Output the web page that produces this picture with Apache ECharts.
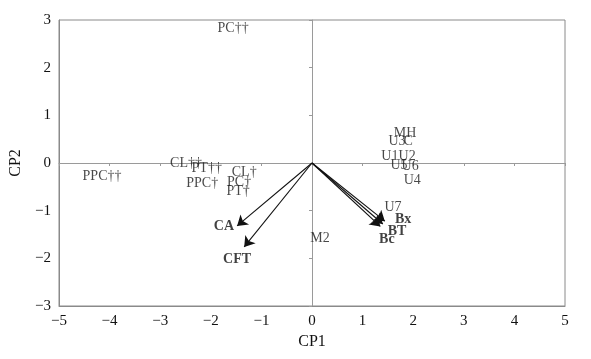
<!DOCTYPE html>
<html>
<head>
<meta charset="utf-8">
<script src="https://cdn.jsdelivr.net/npm/echarts@6/dist/echarts.min.js"></script>
<style>html,body{margin:0;padding:0;background:#fff}#c{width:591px;height:359px}</style>
</head>
<body>
<div id="c"></div>
<script>
// Point labels (regular font)
const labelNames = ['PC††','PPC††','CL††','PT††','PPC†','CL†','PC†','PT†','MH','U3','C','U1','U2','U5','U6','U4','U7','M2'];
const labelX =     [-1.56, -4.15, -2.49, -2.08, -2.17, -1.34, -1.44, -1.46, 1.84, 1.68, 1.90, 1.54, 1.88, 1.72, 1.94, 1.98, 1.60, 0.16];
const labelY =     [ 2.83, -0.27,  0.00, -0.12, -0.42, -0.19, -0.40, -0.59, 0.62, 0.46, 0.46, 0.13, 0.13, -0.04, -0.06, -0.36, -0.94, -1.57];
// Variable labels (bold)
const varNames = ['CA','CFT','Bx','BT','Bc'];
const varX =     [-1.74, -1.48, 1.80, 1.68, 1.48];
const varY =     [-1.34, -2.03, -1.19, -1.43, -1.61];
// Loading arrows (tips)
const arrowX = [-1.48, -1.34, 1.44, 1.40, 1.35];
const arrowY = [-1.32, -1.76, -1.22, -1.28, -1.33];
// Ticks
const xTicks = [-5,-4,-3,-2,-1,0,1,2,3,4,5];
const yTicks = [-3,-2,-1,0,1,2,3];

const FONT = 'Liberation Serif';
const fmt = v => v < 0 ? '\u2212' + Math.abs(v) : String(v);

const chart = echarts.init(document.getElementById('c'));
chart.setOption({
  animation: false,
  grid: {left: 59, right: 26, top: 20, bottom: 53, show: true, borderColor: '#8a8a8a', borderWidth: 1},
  xAxis: [
    {type: 'value', min: xTicks[0], max: xTicks[xTicks.length-1], interval: 1, position: 'bottom',
     axisLine: {onZero: false, lineStyle: {color: '#8a8a8a'}}, axisTick: {show: false},
     splitLine: {show: false},
     axisLabel: {formatter: fmt, color: '#111', fontFamily: FONT, fontSize: 15, margin: 8},
     name: 'CP1', nameLocation: 'middle', nameGap: 27,
     nameTextStyle: {color: '#111', fontFamily: FONT, fontSize: 16}},
    {type: 'value', min: xTicks[0], max: xTicks[xTicks.length-1], interval: 1, position: 'bottom',
     axisLine: {onZero: true, onZeroAxisIndex: 0, lineStyle: {color: '#9a9a9a'}},
     axisTick: {show: true, length: 3, lineStyle: {color: '#9a9a9a'}},
     axisLabel: {show: false}, splitLine: {show: false}}
  ],
  yAxis: [
    {type: 'value', min: yTicks[0], max: yTicks[yTicks.length-1], interval: 1, position: 'left',
     axisLine: {onZero: false, lineStyle: {color: '#8a8a8a'}}, axisTick: {show: false},
     splitLine: {show: false},
     axisLabel: {formatter: fmt, color: '#111', fontFamily: FONT, fontSize: 15, margin: 8},
     name: 'CP2', nameLocation: 'middle', nameGap: 26, nameRotate: 90,
     nameTextStyle: {color: '#111', fontFamily: FONT, fontSize: 16}},
    {type: 'value', min: yTicks[0], max: yTicks[yTicks.length-1], interval: 1, position: 'left',
     axisLine: {onZero: true, onZeroAxisIndex: 0, lineStyle: {color: '#9a9a9a'}},
     axisTick: {show: true, length: 3, lineStyle: {color: '#9a9a9a'}},
     axisLabel: {show: false}, splitLine: {show: false}}
  ],
  series: [
    {type: 'lines', coordinateSystem: 'cartesian2d', xAxisIndex: 0, yAxisIndex: 0,
     symbol: ['none', 'arrow'], symbolSize: [7, 10],
     lineStyle: {color: '#111', width: 1.1, opacity: 1},
     data: arrowX.map((x, i) => ({coords: [[0, 0], [x, arrowY[i]]]}))},
    {type: 'scatter', xAxisIndex: 0, yAxisIndex: 0, symbolSize: 0, itemStyle: {color: 'transparent'},
     label: {show: true, position: 'inside', formatter: p => p.data[2], color: '#1a1a1a', fontFamily: FONT, fontSize: 14},
     data: labelNames.map((n, i) => [labelX[i], labelY[i], n])},
    {type: 'scatter', xAxisIndex: 0, yAxisIndex: 0, symbolSize: 0, itemStyle: {color: 'transparent'},
     label: {show: true, position: 'inside', formatter: p => p.data[2], color: '#111', fontFamily: FONT, fontSize: 14, fontWeight: 'bold'},
     data: varNames.map((n, i) => [varX[i], varY[i], n])}
  ]
});
</script>
</body>
</html>
